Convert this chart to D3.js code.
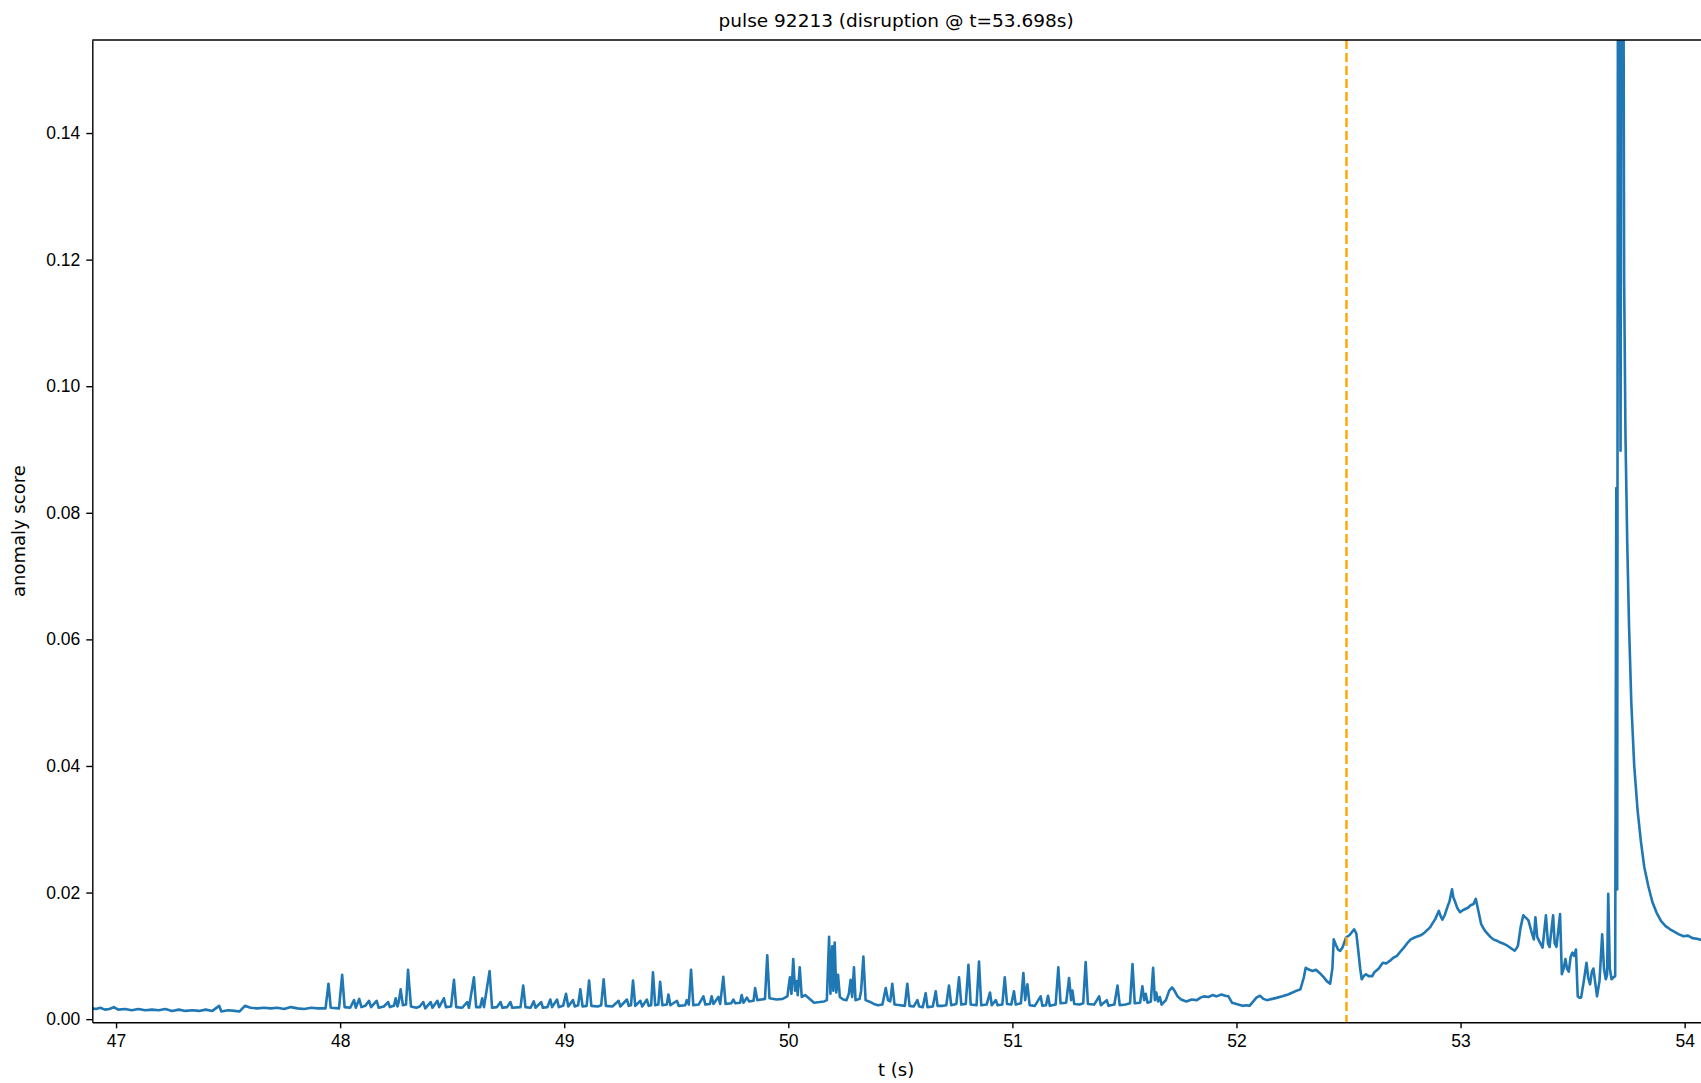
<!DOCTYPE html>
<html>
<head>
<meta charset="utf-8">
<script src="https://cdn.jsdelivr.net/npm/d3@7"></script>
<style>
  html, body { margin: 0; padding: 0; background: #fff; }
  svg { display: block; font-family: "DejaVu Sans", sans-serif; }
  .tick text { font-size: 17.5px; fill: #000; }
  .tick line { stroke: #000; stroke-width: 1.4px; }
  .domain { stroke: #000; stroke-width: 1.4px; }
</style>
</head>
<body>
<svg id="chart" width="1701" height="1083"></svg>
<script>
// pulse 92213: anomaly score over time, disruption at t = 53.698 s
const pulseId = 92213;
const disruptionTime = 53.698;
const alarmTime = 52.491;

const xTicks = [47, 48, 49, 50, 51, 52, 53, 54];
const yTicks = [0.00, 0.02, 0.04, 0.06, 0.08, 0.10, 0.12, 0.14];

const times = [
  46.894, 46.91, 46.93, 46.95, 46.97, 46.99, 47.01, 47.04, 47.07, 47.10,
  47.13, 47.16, 47.19, 47.22, 47.25, 47.28, 47.31, 47.34, 47.37, 47.40,
  47.43, 47.46, 47.47, 47.50, 47.53, 47.55, 47.575, 47.60, 47.63, 47.66,
  47.69, 47.72, 47.75, 47.78, 47.81, 47.84, 47.87, 47.90, 47.935, 47.948,
  47.958, 47.995, 48.009, 48.020, 48.045, 48.062, 48.070, 48.085, 48.095, 48.112,
  48.129, 48.138, 48.163, 48.172, 48.195, 48.214, 48.222, 48.240, 48.248, 48.256,
  48.262, 48.270, 48.280, 48.294, 48.303, 48.316, 48.340, 48.355, 48.371, 48.380,
  48.404, 48.412, 48.434, 48.442, 48.463, 48.472, 48.495, 48.508, 48.518, 48.545,
  48.567, 48.575, 48.597, 48.607, 48.625, 48.634, 48.642, 48.667, 48.678, 48.700,
  48.716, 48.724, 48.745, 48.760, 48.768, 48.805, 48.817, 48.827, 48.850, 48.864,
  48.872, 48.897, 48.905, 48.925, 48.938, 48.946, 48.968, 48.976, 48.995, 49.008,
  49.018, 49.039, 49.047, 49.062, 49.072, 49.082, 49.100, 49.111, 49.121, 49.150,
  49.165, 49.176, 49.186, 49.215, 49.243, 49.250, 49.280, 49.288, 49.298, 49.307,
  49.317, 49.340, 49.348, 49.369, 49.377, 49.388, 49.396, 49.406, 49.420, 49.428,
  49.438, 49.458, 49.465, 49.474, 49.503, 49.511, 49.540, 49.547, 49.556, 49.566,
  49.576, 49.600, 49.621, 49.630, 49.650, 49.658, 49.666, 49.688, 49.696, 49.710,
  49.720, 49.745, 49.755, 49.763, 49.785, 49.792, 49.800, 49.815, 49.825, 49.845,
  49.852, 49.862, 49.880, 49.896, 49.906, 49.916, 49.948, 49.975, 49.996, 50.007,
  50.014, 50.022, 50.030, 50.036, 50.042, 50.051, 50.060, 50.075, 50.092, 50.115,
  50.140, 50.160, 50.172, 50.182, 50.188, 50.196, 50.201, 50.207, 50.214, 50.222,
  50.230, 50.245, 50.260, 50.270, 50.278, 50.285, 50.293, 50.300, 50.318, 50.325,
  50.335, 50.345, 50.360, 50.382, 50.400, 50.420, 50.435, 50.445, 50.455, 50.464,
  50.474, 50.500, 50.520, 50.531, 50.541, 50.560, 50.576, 50.584, 50.600, 50.613,
  50.621, 50.645, 50.658, 50.666, 50.690, 50.705, 50.717, 50.727, 50.750, 50.762,
  50.772, 50.792, 50.804, 50.814, 50.840, 50.851, 50.861, 50.885, 50.900, 50.908,
  50.926, 50.934, 50.955, 50.966, 50.976, 50.995, 51.007, 51.015, 51.038, 51.049,
  51.057, 51.067, 51.077, 51.100, 51.126, 51.134, 51.150, 51.159, 51.167, 51.193,
  51.205, 51.215, 51.240, 51.253, 51.262, 51.268, 51.276, 51.300, 51.316, 51.327,
  51.337, 51.365, 51.387, 51.395, 51.421, 51.429, 51.455, 51.469, 51.479, 51.505,
  51.525, 51.536, 51.546, 51.570, 51.580, 51.588, 51.595, 51.603, 51.618, 51.628,
  51.636, 51.642, 51.650, 51.658, 51.666, 51.685, 51.700, 51.713, 51.725, 51.737,
  51.753, 51.776, 51.800, 51.823, 51.840, 51.854, 51.875, 51.893, 51.910, 51.933,
  51.950, 51.964, 51.980, 52.000, 52.027, 52.045, 52.058, 52.075, 52.089, 52.105,
  52.120, 52.136, 52.160, 52.183, 52.205, 52.230, 52.250, 52.262, 52.285, 52.300,
  52.309, 52.325, 52.340, 52.355, 52.371, 52.390, 52.403, 52.418, 52.428, 52.434,
  52.443, 52.453, 52.463, 52.473, 52.489, 52.505, 52.525, 52.535, 52.543, 52.552,
  52.559, 52.568, 52.578, 52.590, 52.606, 52.615, 52.622, 52.635, 52.653, 52.668,
  52.684, 52.700, 52.716, 52.730, 52.747, 52.762, 52.778, 52.795, 52.810, 52.825,
  52.840, 52.852, 52.864, 52.876, 52.887, 52.903, 52.912, 52.919, 52.930, 52.943,
  52.950, 52.962, 52.968, 52.974, 52.986, 52.998, 53.010, 53.021, 53.033, 53.045,
  53.058, 53.068, 53.080, 53.092, 53.103, 53.115, 53.130, 53.146, 53.162, 53.178,
  53.193, 53.209, 53.225, 53.241, 53.250, 53.256, 53.268, 53.280, 53.292, 53.303,
  53.315, 53.327, 53.334, 53.342, 53.350, 53.366, 53.381, 53.390, 53.397, 53.413,
  53.420, 53.428, 53.444, 53.452, 53.460, 53.468, 53.475, 53.483, 53.491, 53.499,
  53.507, 53.515, 53.523, 53.530, 53.538, 53.550, 53.562, 53.570, 53.578, 53.586,
  53.593, 53.600, 53.609, 53.620, 53.632, 53.640, 53.648, 53.654, 53.659, 53.666,
  53.674, 53.682, 53.690, 53.695, 53.699, 53.704, 53.714, 53.722, 53.730, 53.736,
  53.744, 53.752, 53.762, 53.775, 53.790, 53.805, 53.820, 53.838, 53.856, 53.875,
  53.895, 53.915, 53.935, 53.955, 53.975, 53.995, 54.015, 54.035, 54.055, 54.075
];

const scores = [
  0.0017, 0.0016, 0.0018, 0.0015, 0.0016, 0.0019, 0.0015, 0.0016, 0.0014, 0.0016,
  0.0014, 0.0015, 0.0014, 0.0016, 0.0013, 0.0015, 0.0013, 0.0014, 0.0013, 0.0015,
  0.0013, 0.0021, 0.0012, 0.0014, 0.0013, 0.0012, 0.0021, 0.0018, 0.0017, 0.0018,
  0.0017, 0.0018, 0.0016, 0.0019, 0.0017, 0.0016, 0.0018, 0.0017, 0.0017, 0.0056,
  0.0018, 0.0017, 0.0070, 0.0019, 0.0018, 0.0030, 0.0018, 0.0032, 0.0019, 0.0021,
  0.0029, 0.0019, 0.0029, 0.0018, 0.0020, 0.0027, 0.0019, 0.0021, 0.0033, 0.0020,
  0.0028, 0.0047, 0.0022, 0.0023, 0.0078, 0.0020, 0.0018, 0.0020, 0.0027, 0.0017,
  0.0027, 0.0018, 0.0029, 0.0019, 0.0033, 0.0019, 0.0020, 0.0062, 0.0019, 0.0018,
  0.0027, 0.0018, 0.0066, 0.0019, 0.0019, 0.0033, 0.0019, 0.0076, 0.0018, 0.0019,
  0.0027, 0.0018, 0.0019, 0.0027, 0.0018, 0.0019, 0.0053, 0.0019, 0.0018, 0.0028,
  0.0018, 0.0027, 0.0018, 0.0019, 0.0031, 0.0019, 0.0031, 0.0019, 0.0021, 0.0040,
  0.0020, 0.0030, 0.0020, 0.0022, 0.0047, 0.0020, 0.0021, 0.0061, 0.0021, 0.0020,
  0.0022, 0.0063, 0.0021, 0.0020, 0.0029, 0.0020, 0.0031, 0.0021, 0.0022, 0.0061,
  0.0021, 0.0029, 0.0020, 0.0031, 0.0021, 0.0022, 0.0074, 0.0022, 0.0023, 0.0059,
  0.0022, 0.0023, 0.0039, 0.0022, 0.0029, 0.0021, 0.0022, 0.0030, 0.0023, 0.0078,
  0.0022, 0.0023, 0.0036, 0.0023, 0.0024, 0.0036, 0.0024, 0.0035, 0.0024, 0.0067,
  0.0024, 0.0025, 0.0031, 0.0025, 0.0026, 0.0038, 0.0026, 0.0034, 0.0028, 0.0029,
  0.0049, 0.0030, 0.0031, 0.0032, 0.0101, 0.0033, 0.0031, 0.0032, 0.0036, 0.0066,
  0.0040, 0.0095, 0.0045, 0.0060, 0.0038, 0.0082, 0.0035, 0.0038, 0.0033, 0.0026,
  0.0027, 0.0028, 0.0030, 0.0130, 0.0040, 0.0115, 0.0045, 0.0121, 0.0042, 0.0070,
  0.0035, 0.0031, 0.0030, 0.0040, 0.0062, 0.0035, 0.0082, 0.0030, 0.0032, 0.0045,
  0.0099, 0.0030, 0.0028, 0.0024, 0.0022, 0.0023, 0.0049, 0.0030, 0.0028, 0.0056,
  0.0023, 0.0022, 0.0021, 0.0056, 0.0021, 0.0020, 0.0030, 0.0020, 0.0019, 0.0041,
  0.0019, 0.0020, 0.0044, 0.0021, 0.0021, 0.0022, 0.0053, 0.0022, 0.0024, 0.0066,
  0.0023, 0.0024, 0.0086, 0.0023, 0.0022, 0.0091, 0.0022, 0.0023, 0.0042, 0.0022,
  0.0030, 0.0022, 0.0023, 0.0066, 0.0024, 0.0023, 0.0044, 0.0023, 0.0025, 0.0073,
  0.0030, 0.0055, 0.0022, 0.0021, 0.0036, 0.0021, 0.0022, 0.0037, 0.0021, 0.0023,
  0.0082, 0.0025, 0.0026, 0.0065, 0.0030, 0.0045, 0.0024, 0.0023, 0.0025, 0.0090,
  0.0024, 0.0023, 0.0036, 0.0022, 0.0030, 0.0021, 0.0023, 0.0053, 0.0022, 0.0023,
  0.0025, 0.0087, 0.0025, 0.0026, 0.0052, 0.0030, 0.0040, 0.0026, 0.0028, 0.0081,
  0.0030, 0.0042, 0.0028, 0.0035, 0.0023, 0.0030, 0.0045, 0.0050, 0.0044, 0.0036,
  0.0031, 0.0028, 0.0031, 0.0030, 0.0034, 0.0036, 0.0035, 0.0038, 0.0036, 0.0039,
  0.0037, 0.0036, 0.0026, 0.0024, 0.0021, 0.0022, 0.0021, 0.0028, 0.0034, 0.0037,
  0.0032, 0.0030, 0.0032, 0.0034, 0.0036, 0.0039, 0.0042, 0.0044, 0.0047, 0.0065,
  0.0081, 0.0078, 0.0076, 0.0078, 0.0073, 0.0066, 0.0060, 0.0056, 0.0080, 0.0126,
  0.0118, 0.0110, 0.0108, 0.0113, 0.0129, 0.0133, 0.0142, 0.0135, 0.0110, 0.0080,
  0.0063, 0.0068, 0.0071, 0.0068, 0.0068, 0.0074, 0.0076, 0.0080, 0.0089, 0.0088,
  0.0092, 0.0097, 0.0100, 0.0106, 0.0113, 0.0120, 0.0126, 0.0129, 0.0131, 0.0133,
  0.0137, 0.0141, 0.0145, 0.0152, 0.0158, 0.0171, 0.0162, 0.0157, 0.0165, 0.0179,
  0.0185, 0.0205, 0.0192, 0.0187, 0.0175, 0.0169, 0.0172, 0.0174, 0.0176, 0.0180,
  0.0182, 0.0190, 0.0170, 0.0150, 0.0143, 0.0137, 0.0131, 0.0126, 0.0124, 0.0121,
  0.0119, 0.0116, 0.0112, 0.0108, 0.0112, 0.0116, 0.0145, 0.0164, 0.0160, 0.0156,
  0.0140, 0.0126, 0.0161, 0.0130, 0.0124, 0.0113, 0.0164, 0.0120, 0.0114, 0.0164,
  0.0120, 0.0114, 0.0166, 0.0071, 0.0080, 0.0095, 0.0080, 0.0075, 0.0098, 0.0105,
  0.0100, 0.0110, 0.0036, 0.0034, 0.0034, 0.0060, 0.0089, 0.0065, 0.0055, 0.0075,
  0.0080, 0.0060, 0.0036, 0.0060, 0.0134, 0.0080, 0.0063, 0.0070, 0.0198, 0.0080,
  0.0063, 0.0066, 0.0068, 0.0839, 0.0205, 0.2500, 0.0898, 0.2500, 0.1167, 0.0920,
  0.0750, 0.0620, 0.0500, 0.0400, 0.0330, 0.0280, 0.0240, 0.0210, 0.0185, 0.0168,
  0.0155, 0.0147, 0.0142, 0.0138, 0.0134, 0.0131, 0.0132, 0.0128, 0.0127, 0.0125
];

const plot = { left: 92.3, right: 1701, top: 40, bottom: 1022.3 };

const svg = d3.select("#chart");

const x = d3.scaleLinear().domain([46.894, 54.073]).range([plot.left, plot.right]);
const y = d3.scaleLinear().domain([-0.0005, 0.1547]).range([plot.bottom, plot.top]);

svg.append("defs").append("clipPath").attr("id", "plot-clip")
  .append("rect")
  .attr("x", plot.left).attr("y", plot.top)
  .attr("width", plot.right - plot.left).attr("height", plot.bottom - plot.top);

const series = times.map((t, i) => ({ t, v: scores[i] }));

// anomaly score trace
svg.append("path")
  .datum(series)
  .attr("clip-path", "url(#plot-clip)")
  .attr("fill", "none")
  .attr("stroke", "#1f77b4")
  .attr("stroke-width", 2.6)
  .attr("stroke-linejoin", "round")
  .attr("d", d3.line().x(d => x(d.t)).y(d => y(d.v)));

// alarm marker
svg.append("line")
  .attr("x1", x(alarmTime)).attr("x2", x(alarmTime))
  .attr("y1", plot.top).attr("y2", plot.bottom)
  .attr("stroke", "#ffa500")
  .attr("stroke-width", 2.4)
  .attr("stroke-dasharray", "9,4");

// axes
svg.append("g")
  .attr("transform", `translate(0,${plot.bottom})`)
  .call(d3.axisBottom(x).tickValues(xTicks).tickFormat(d3.format("d"))
    .tickSize(6).tickSizeOuter(0).tickPadding(6));

svg.append("g")
  .attr("transform", `translate(${plot.left},0)`)
  .call(d3.axisLeft(y).tickValues(yTicks).tickFormat(d3.format(".2f"))
    .tickSize(6).tickSizeOuter(0).tickPadding(6));

// top spine
svg.append("line")
  .attr("x1", plot.left).attr("x2", plot.right)
  .attr("y1", plot.top).attr("y2", plot.top)
  .attr("stroke", "#000").attr("stroke-width", 1.4);

// title and axis labels
svg.append("text")
  .attr("x", (plot.left + 1700) / 2).attr("y", 27)
  .attr("text-anchor", "middle")
  .style("font-size", "18.5px")
  .text(`pulse ${pulseId} (disruption @ t=${disruptionTime.toFixed(3)}s)`);

svg.append("text")
  .attr("x", (plot.left + 1700) / 2).attr("y", 1076)
  .attr("text-anchor", "middle")
  .style("font-size", "18px")
  .text("t (s)");

svg.append("text")
  .attr("transform", `translate(24.5,${(plot.top + plot.bottom) / 2}) rotate(-90)`)
  .attr("text-anchor", "middle")
  .style("font-size", "18px")
  .text("anomaly score");
</script>
</body>
</html>
